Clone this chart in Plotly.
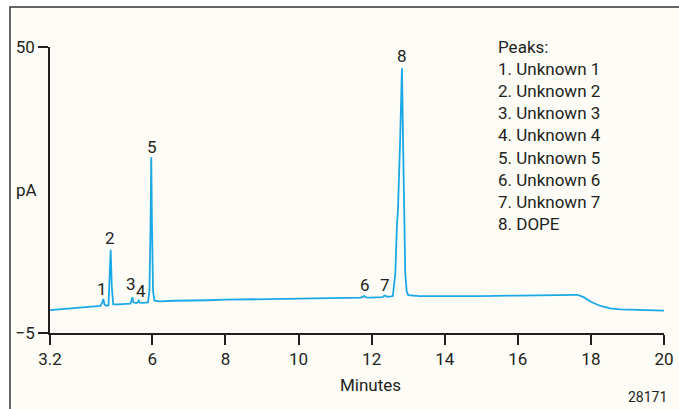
import plotly.graph_objects as go

# ---- data ----
time_min = [3.2, 3.6, 4.0, 4.4, 4.58, 4.63, 4.66, 4.69, 4.74, 4.80, 4.83, 4.86, 4.89, 4.93,
            5.05, 5.25, 5.40, 5.43, 5.455, 5.48, 5.56, 5.60, 5.63, 5.66, 5.75, 5.88, 5.92,
            5.95, 5.97, 5.99, 6.02, 6.06, 6.2, 6.6, 7.0, 7.5, 8.0, 9.0, 10.0, 11.0, 11.7,
            11.8, 11.85, 11.95, 12.2, 12.3, 12.35, 12.45, 12.58, 12.65, 12.69, 12.72, 12.78,
            12.83, 12.86, 12.89, 12.92, 12.96, 13.0, 13.3, 14.0, 15.0, 16.0, 17.0, 17.4,
            17.63, 17.8, 18.0, 18.26, 18.53, 18.8, 19.5, 20.0]
signal_pA = [-0.6, -0.35, -0.15, 0.1, 0.2, 0.9, 1.55, 0.5, 0.25, 0.35, 4.5, 11.0, 4.0, 0.5,
             0.5, 0.6, 0.65, 1.2, 1.9, 0.9, 0.75, 0.9, 1.2, 0.85, 0.8, 0.9, 3.0,
             15.0, 28.8, 16.0, 3.0, 1.2, 1.1, 1.2, 1.3, 1.3, 1.4, 1.5, 1.6, 1.7, 1.8,
             2.1, 1.85, 1.8, 1.85, 1.9, 2.2, 1.95, 2.1, 6.5, 15.4, 18.5, 32.0,
             45.9, 32.0, 17.0, 6.5, 3.0, 2.3, 2.1, 2.05, 2.1, 2.2, 2.3, 2.35,
             2.35, 1.9, 1.0, 0.2, -0.25, -0.45, -0.6, -0.7]

peak_labels = ["1", "2", "3", "4", "5", "6", "7", "8"]
peak_label_x = [4.62, 4.85, 5.41, 5.68, 6.0, 11.83, 12.36, 12.83]
peak_label_y = [3.4, 13.2, 4.4, 3.1, 30.8, 4.2, 4.2, 48.3]

legend_title = "Peaks:"
legend_items = ["1. Unknown 1", "2. Unknown 2", "3. Unknown 3", "4. Unknown 4",
                "5. Unknown 5", "6. Unknown 6", "7. Unknown 7", "8. DOPE"]

x_ticks = [3.2, 6, 8, 10, 12, 14, 16, 18, 20]
x_ticktext = ["3.2", "6", "8", "10", "12", "14", "16", "18", "20"]
y_ticks = [-5, 50]
x_range = [3.2, 20]
y_range = [-5, 50]

# ---- styling ----
FONT = "Roboto, Liberation Sans, sans-serif"
TXT = "#231f20"
LINE = "#1ba8e6"
BG = "#fdfcf7"

W, H = 679, 409
L, R, T, B = 50, 15, 47, 76
pw, ph = W - L - R, H - T - B


def px_to_paper(px, py):
    return (px - L) / pw, (H - B - py) / ph


fig = go.Figure()
fig.add_trace(go.Scatter(x=time_min, y=signal_pA, mode="lines",
                         line=dict(color=LINE, width=1.8), hoverinfo="skip",
                         showlegend=False))

for lab, lx, ly in zip(peak_labels, peak_label_x, peak_label_y):
    fig.add_annotation(x=lx, y=ly, text=lab, showarrow=False,
                       xanchor="center", yanchor="middle",
                       font=dict(family=FONT, size=17, color=TXT))

# legend text block
lx0, ly0 = px_to_paper(496, 35)
fig.add_annotation(x=lx0, y=ly0, xref="paper", yref="paper", xanchor="left", yanchor="top",
                   align="left", showarrow=False,
                   text="<br>".join([legend_title] + legend_items),
                   font=dict(family=FONT, size=17, color=TXT))

# axis labels
ax, ay = px_to_paper(26, 190)
fig.add_annotation(x=ax, y=ay, xref="paper", yref="paper", text="pA", showarrow=False,
                   xanchor="center", yanchor="middle",
                   font=dict(family=FONT, size=17, color=TXT))
mx, my = px_to_paper(370, 385)
fig.add_annotation(x=mx, y=my, xref="paper", yref="paper", text="Minutes", showarrow=False,
                   xanchor="center", yanchor="middle",
                   font=dict(family=FONT, size=17, color=TXT))
_, ny = px_to_paper(669, 397)
fig.add_annotation(x=1.0, y=ny, xref="paper", yref="paper", text="28171", showarrow=False,
                   xanchor="right", yanchor="middle", xshift=669 - (W - R),
                   font=dict(family=FONT, size=14, color=TXT))

# frame
fx0, fy1 = px_to_paper(10, 7)
fx1, fy0 = px_to_paper(W + 20, H + 20)
fig.add_shape(type="rect", xref="paper", yref="paper", x0=fx0, x1=fx1, y0=fy0, y1=fy1,
              fillcolor=BG, line=dict(color="#333333", width=1.5), layer="below")

fig.update_layout(
    width=W, height=H,
    autosize=False,
    margin=dict(l=L, r=R, t=T, b=B, autoexpand=False),
    paper_bgcolor="white",
    plot_bgcolor="rgba(0,0,0,0)",
    font=dict(family=FONT, size=17, color=TXT),
    xaxis=dict(range=x_range, tickvals=x_ticks, ticktext=x_ticktext, showgrid=False,
               zeroline=False, showline=True, linecolor=TXT, linewidth=1.5,
               ticks="outside", ticklen=10, tickwidth=1.5, tickcolor=TXT,
               automargin=False, ticklabeloverflow="allow",
               tickfont=dict(family=FONT, size=17, color=TXT)),
    yaxis=dict(range=y_range, tickvals=y_ticks, showgrid=False, zeroline=False,
               showline=True, linecolor=TXT, linewidth=1.5,
               ticks="outside", ticklen=10, tickwidth=1.5, tickcolor=TXT,
               automargin=False,
               tickfont=dict(family=FONT, size=17, color=TXT)),
)

page_js = (
    "document.body.style.margin='0';"
    "document.body.style.overflow='hidden';"
    "document.documentElement.style.overflow='hidden';"
)
fig.write_html("out.html",
               config={"responsive": False, "displayModeBar": False},
               post_script=page_js)
